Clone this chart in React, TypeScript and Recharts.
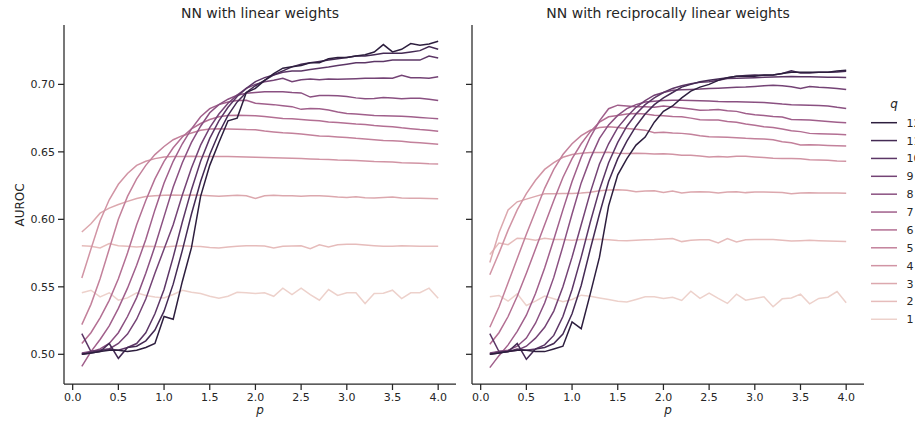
import React from "react";
import { LineChart, Line, XAxis, YAxis } from "recharts";

// p values (x axis)
const pValues = [0.1, 0.2, 0.3, 0.4, 0.5, 0.6, 0.7, 0.8, 0.9, 1.0, 1.1, 1.2, 1.3, 1.4, 1.5, 1.6, 1.7, 1.8, 1.9, 2.0,
  2.1, 2.2, 2.3, 2.4, 2.5, 2.6, 2.7, 2.8, 2.9, 3.0, 3.1, 3.2, 3.3, 3.4, 3.5, 3.6, 3.7, 3.8, 3.9, 4.0];

const qLevels = [1, 2, 3, 4, 5, 6, 7, 8, 9, 10, 11, 12];
const qColors = ["#EDD1CB", "#E6BCBB", "#DCA8AE", "#D194A4", "#C3819B", "#B36F93",
  "#A05F8B", "#8A5081", "#744375", "#5C3666", "#442A54", "#2D1E3E"];

const xTicks = [0, 0.5, 1, 1.5, 2, 2.5, 3, 3.5, 4];
const yTicks = [0.5, 0.55, 0.6, 0.65, 0.7];

// NN with linear weights
const linQ1 = [0.5456, 0.5475, 0.5426, 0.5456, 0.5401, 0.5418, 0.5456, 0.5436, 0.5424, 0.5418,
  0.5443, 0.5475, 0.546, 0.545, 0.543, 0.5416, 0.543, 0.546, 0.5456, 0.545,
  0.5456, 0.543, 0.549, 0.5443, 0.549, 0.5443, 0.5401, 0.548, 0.5436, 0.5456,
  0.5456, 0.5376, 0.545, 0.5453, 0.5475, 0.5413, 0.5456, 0.5456, 0.549, 0.5416];
const linQ2 = [0.5805, 0.58, 0.5788, 0.582, 0.5805, 0.58, 0.5795, 0.58, 0.5798, 0.5795,
  0.58, 0.5805, 0.58, 0.5798, 0.5792, 0.5788, 0.5795, 0.58, 0.5805, 0.5805,
  0.5802, 0.5788, 0.58, 0.5802, 0.5805, 0.5783, 0.5812, 0.5795, 0.5812, 0.5815,
  0.5815, 0.581, 0.5805, 0.58, 0.58, 0.5805, 0.5802, 0.58, 0.58, 0.58];
const linQ3 = [0.5906, 0.5967, 0.6046, 0.6083, 0.611, 0.6133, 0.6155, 0.617, 0.6175, 0.6178,
  0.618, 0.6178, 0.618, 0.6178, 0.6175, 0.6172, 0.6175, 0.6178, 0.6175, 0.6155,
  0.6175, 0.6178, 0.6175, 0.6175, 0.6172, 0.6175, 0.6175, 0.6172, 0.6165, 0.6162,
  0.6168, 0.616, 0.6158, 0.6162, 0.6165, 0.6158, 0.6156, 0.6156, 0.6155, 0.6152];
const linQ4 = [0.5566, 0.578, 0.599, 0.6145, 0.626, 0.634, 0.64, 0.643, 0.645, 0.6462,
  0.6465, 0.6465, 0.6468, 0.6466, 0.6465, 0.6465, 0.6466, 0.6464, 0.6462, 0.646,
  0.6458, 0.6457, 0.6454, 0.6452, 0.645, 0.6448, 0.6445, 0.6444, 0.644, 0.6438,
  0.6436, 0.6432, 0.6428, 0.6426, 0.6424, 0.642, 0.6418, 0.6415, 0.6412, 0.6411];
const linQ5 = [0.522, 0.537, 0.556, 0.578, 0.6, 0.617, 0.63, 0.64, 0.648, 0.654,
  0.659, 0.662, 0.664, 0.666, 0.667, 0.6672, 0.667, 0.6668, 0.6665, 0.6664,
  0.6655, 0.6648, 0.6642, 0.6638, 0.6632, 0.6625, 0.6618, 0.6615, 0.661, 0.6606,
  0.66, 0.6596, 0.659, 0.6585, 0.6582, 0.6578, 0.6572, 0.6567, 0.6562, 0.6556];
const linQ6 = [0.508, 0.516, 0.527, 0.54, 0.556, 0.575, 0.596, 0.614, 0.63, 0.643,
  0.653, 0.661, 0.667, 0.671, 0.674, 0.676, 0.677, 0.6772, 0.677, 0.6768,
  0.6762, 0.6755, 0.6748, 0.6745, 0.674, 0.6735, 0.673, 0.6722, 0.6718, 0.6712,
  0.6706, 0.6702, 0.6695, 0.669, 0.6686, 0.6678, 0.6672, 0.6665, 0.666, 0.6652];
const linQ7 = [0.491, 0.502, 0.511, 0.521, 0.534, 0.549, 0.566, 0.585, 0.607, 0.627,
  0.643, 0.656, 0.667, 0.676, 0.682, 0.685, 0.687, 0.688, 0.6882, 0.686,
  0.6855, 0.685, 0.6842, 0.6835, 0.6815, 0.6822, 0.682, 0.681, 0.6795, 0.6785,
  0.678, 0.6775, 0.677, 0.6768, 0.6766, 0.6764, 0.676, 0.6755, 0.675, 0.6745];
const linQ8 = [0.5, 0.502, 0.504, 0.508, 0.516, 0.528, 0.542, 0.56, 0.58, 0.602,
  0.624, 0.642, 0.657, 0.669, 0.679, 0.685, 0.689, 0.692, 0.6935, 0.694,
  0.6945, 0.6945, 0.6945, 0.694, 0.6937, 0.6906, 0.6918, 0.6918, 0.6915, 0.691,
  0.69, 0.6893, 0.6895, 0.6903, 0.69, 0.6893, 0.6898, 0.6898, 0.689, 0.6881];
const linQ9 = [0.501, 0.502, 0.503, 0.504, 0.508, 0.515, 0.526, 0.541, 0.56, 0.578,
  0.596, 0.618, 0.638, 0.655, 0.668, 0.678, 0.686, 0.692, 0.697, 0.7,
  0.702, 0.703, 0.7045, 0.7019, 0.7035, 0.704, 0.7035, 0.704, 0.7038, 0.704,
  0.7042, 0.7045, 0.7045, 0.7048, 0.7045, 0.7068, 0.705, 0.705, 0.7045, 0.7056];
const linQ10 = [0.5153, 0.502, 0.503, 0.504, 0.503, 0.505, 0.508, 0.516, 0.53, 0.548,
  0.572, 0.598, 0.622, 0.643, 0.66, 0.673, 0.683, 0.691, 0.697, 0.702,
  0.705, 0.707, 0.709, 0.71, 0.71, 0.711, 0.712, 0.7129, 0.714, 0.715,
  0.716, 0.716, 0.717, 0.717, 0.718, 0.718, 0.718, 0.718, 0.721, 0.7196];
const linQ11 = [0.5, 0.501, 0.502, 0.508, 0.497, 0.505, 0.506, 0.51, 0.518, 0.532,
  0.552, 0.577, 0.604, 0.628, 0.648, 0.664, 0.677, 0.687, 0.694, 0.699,
  0.703, 0.707, 0.71, 0.713, 0.715, 0.716, 0.717, 0.718, 0.719, 0.72,
  0.721, 0.721, 0.722, 0.723, 0.723, 0.723, 0.724, 0.725, 0.728, 0.726];
const linQ12 = [0.5, 0.501, 0.502, 0.503, 0.503, 0.502, 0.503, 0.505, 0.508, 0.528,
  0.526, 0.554, 0.579, 0.617, 0.64, 0.657, 0.673, 0.675, 0.694, 0.697,
  0.703, 0.708, 0.712, 0.713, 0.714, 0.716, 0.716, 0.719, 0.72, 0.72,
  0.721, 0.722, 0.724, 0.7295, 0.7241, 0.726, 0.7302, 0.729, 0.73, 0.7319];

// NN with reciprocally linear weights
const recQ1 = [0.5426, 0.5436, 0.5394, 0.5448, 0.5362, 0.5394, 0.5431, 0.5411, 0.5389, 0.5406,
  0.5438, 0.5431, 0.5418, 0.5406, 0.5394, 0.5387, 0.5406, 0.5426, 0.5426, 0.5414,
  0.5423, 0.5399, 0.5468, 0.5414, 0.5453, 0.5414, 0.5377, 0.5446, 0.5401, 0.5414,
  0.5426, 0.5352, 0.5411, 0.5418, 0.5446, 0.5374, 0.5414, 0.5423, 0.5465, 0.5382];
const recQ2 = [0.574, 0.5825, 0.5812, 0.586, 0.5857, 0.5845, 0.586, 0.585, 0.585, 0.5845,
  0.585, 0.585, 0.5852, 0.5848, 0.5843, 0.5842, 0.5845, 0.5848, 0.585, 0.5855,
  0.5858, 0.5835, 0.5845, 0.5848, 0.5848, 0.5825, 0.5857, 0.5832, 0.5848, 0.585,
  0.585, 0.585, 0.5845, 0.584, 0.5842, 0.5845, 0.5842, 0.584, 0.5838, 0.5835];
const recQ3 = [0.568, 0.59, 0.607, 0.613, 0.615, 0.617, 0.619, 0.619, 0.6192, 0.6192,
  0.6195, 0.62, 0.6212, 0.6218, 0.6219, 0.6215, 0.6205, 0.621, 0.6212, 0.6199,
  0.621, 0.6195, 0.6202, 0.6205, 0.6203, 0.6195, 0.6202, 0.6205, 0.6198, 0.6202,
  0.6203, 0.62, 0.6198, 0.619, 0.6195, 0.6197, 0.6196, 0.6195, 0.6195, 0.6194];
const recQ4 = [0.559, 0.575, 0.592, 0.607, 0.619, 0.629, 0.637, 0.642, 0.646, 0.648,
  0.649, 0.6495, 0.6495, 0.6497, 0.649, 0.6488, 0.649, 0.6488, 0.6485, 0.6486,
  0.6482, 0.6475, 0.6475, 0.647, 0.6462, 0.6465, 0.6462, 0.6468, 0.6467, 0.6462,
  0.6458, 0.6452, 0.645, 0.645, 0.6449, 0.6442, 0.644, 0.6438, 0.6432, 0.6431];
const recQ5 = [0.52, 0.535, 0.553, 0.571, 0.589, 0.606, 0.623, 0.637, 0.648, 0.656,
  0.662, 0.666, 0.668, 0.6686, 0.668, 0.6674, 0.6668, 0.6661, 0.6642, 0.6645,
  0.664, 0.6637, 0.663, 0.662, 0.6612, 0.661, 0.6608, 0.6605, 0.66, 0.6598,
  0.6595, 0.659, 0.6575, 0.6568, 0.6551, 0.6552, 0.655, 0.6548, 0.6546, 0.6544];
const recQ6 = [0.5074, 0.516, 0.528, 0.543, 0.56, 0.578, 0.596, 0.614, 0.631, 0.645,
  0.656, 0.665, 0.672, 0.676, 0.677, 0.678, 0.6785, 0.678, 0.6772, 0.6768,
  0.6762, 0.676, 0.675, 0.6738, 0.6736, 0.6736, 0.6725, 0.672, 0.6706, 0.6698,
  0.6686, 0.668, 0.667, 0.6656, 0.665, 0.6637, 0.6635, 0.6632, 0.663, 0.6627];
const recQ7 = [0.4901, 0.499, 0.507, 0.517, 0.529, 0.545, 0.564, 0.585, 0.607, 0.628,
  0.646, 0.661, 0.673, 0.682, 0.6846, 0.684, 0.6835, 0.6835, 0.683, 0.6839,
  0.6832, 0.6825, 0.6818, 0.6809, 0.681, 0.6814, 0.6805, 0.68, 0.6785, 0.6775,
  0.677, 0.6762, 0.6758, 0.674, 0.6738, 0.6736, 0.673, 0.6725, 0.672, 0.6716];
const recQ8 = [0.5, 0.502, 0.503, 0.506, 0.512, 0.523, 0.538, 0.557, 0.58, 0.604,
  0.627, 0.645, 0.66, 0.67, 0.677, 0.682, 0.685, 0.687, 0.6875, 0.688,
  0.6883, 0.6883, 0.688, 0.6878, 0.6876, 0.6873, 0.6872, 0.6871, 0.687, 0.6868,
  0.6865, 0.686, 0.6854, 0.685, 0.6848, 0.6846, 0.6843, 0.684, 0.683, 0.6822];
const recQ9 = [0.501, 0.502, 0.502, 0.503, 0.506, 0.512, 0.52, 0.532, 0.55, 0.572,
  0.596, 0.62, 0.641, 0.656, 0.668, 0.676, 0.683, 0.688, 0.692, 0.694,
  0.6957, 0.696, 0.6962, 0.6965, 0.697, 0.6972, 0.6975, 0.6978, 0.698, 0.6985,
  0.699, 0.6994, 0.699, 0.6982, 0.697, 0.6985, 0.6978, 0.6975, 0.697, 0.6962];
const recQ10 = [0.5153, 0.502, 0.502, 0.504, 0.503, 0.504, 0.507, 0.514, 0.528, 0.548,
  0.572, 0.598, 0.622, 0.642, 0.657, 0.669, 0.678, 0.685, 0.69, 0.694,
  0.697, 0.699, 0.7005, 0.7015, 0.7019, 0.703, 0.7043, 0.7045, 0.7048, 0.705,
  0.7052, 0.7055, 0.7056, 0.7058, 0.7056, 0.7056, 0.7055, 0.7053, 0.7052, 0.7051];
const recQ11 = [0.5, 0.501, 0.502, 0.508, 0.4963, 0.504, 0.505, 0.508, 0.515, 0.53,
  0.551, 0.578, 0.604, 0.628, 0.645, 0.658, 0.669, 0.678, 0.685, 0.69,
  0.694, 0.698, 0.7, 0.702, 0.703, 0.704, 0.705, 0.706, 0.7065, 0.707,
  0.7068, 0.707, 0.708, 0.71, 0.7085, 0.7085, 0.709, 0.709, 0.7092, 0.7097];
const recQ12 = [0.5, 0.501, 0.502, 0.503, 0.503, 0.502, 0.502, 0.504, 0.506, 0.524,
  0.519, 0.545, 0.572, 0.61, 0.633, 0.645, 0.655, 0.661, 0.672, 0.68,
  0.684, 0.69, 0.695, 0.698, 0.7, 0.703, 0.705, 0.706, 0.706, 0.706,
  0.707, 0.707, 0.708, 0.709, 0.709, 0.709, 0.709, 0.709, 0.71, 0.7105];

const linSeries = [linQ1, linQ2, linQ3, linQ4, linQ5, linQ6, linQ7, linQ8, linQ9, linQ10, linQ11, linQ12];
const recSeries = [recQ1, recQ2, recQ3, recQ4, recQ5, recQ6, recQ7, recQ8, recQ9, recQ10, recQ11, recQ12];

function toRows(series: number[][]) {
  return pValues.map((p, i) => {
    const row: Record<string, number> = { p };
    qLevels.forEach((q, k) => {
      row["q" + q] = series[k][i];
    });
    return row;
  });
}

const linData = toRows(linSeries);
const recData = toRows(recSeries);

const ink = "#262626";
const font = "DejaVu Sans, sans-serif";

function Panel({ data, showLabels }: { data: Record<string, number>[]; showLabels: boolean }) {
  return (
    <LineChart width={460} height={423} data={data} margin={{ top: 25, right: 4, bottom: 0, left: 0 }}>
      <XAxis
        dataKey="p"
        type="number"
        domain={[-0.095, 4.195]}
        ticks={xTicks}
        tickFormatter={(v: number) => v.toFixed(1)}
        allowDataOverflow
        height={39}
        tickSize={6}
        tickMargin={3}
        axisLine={{ stroke: ink, strokeWidth: 1.25 }}
        tickLine={{ stroke: ink, strokeWidth: 1.25 }}
        tick={{ fill: ink, fontSize: 11, fontFamily: font }}
      />
      <YAxis
        type="number"
        domain={[0.478, 0.744]}
        ticks={yTicks}
        tickFormatter={(v: number) => (showLabels ? v.toFixed(2) : "")}
        allowDataOverflow
        width={64}
        tickSize={6}
        tickMargin={3}
        axisLine={{ stroke: ink, strokeWidth: 1.25 }}
        tickLine={{ stroke: ink, strokeWidth: 1.25 }}
        tick={{ fill: ink, fontSize: 11, fontFamily: font }}
      />
      {qLevels.map((q, k) => (
        <Line
          key={q}
          type="linear"
          dataKey={"q" + q}
          stroke={qColors[k]}
          strokeWidth={1.5}
          dot={false}
          activeDot={false}
          isAnimationActive={false}
        />
      ))}
    </LineChart>
  );
}

export default function App() {
  const legendItems = [...qLevels].reverse();
  return (
    <div style={{ position: "fixed", left: 0, top: 0, width: 915, height: 423, overflow: "hidden", background: "#fff", fontFamily: font }}>
      <div style={{ position: "absolute", left: 0, top: 0 }}>
        <Panel data={linData} showLabels={true} />
      </div>
      <div style={{ position: "absolute", left: 408, top: 0 }}>
        <Panel data={recData} showLabels={false} />
      </div>
      <svg width={915} height={423} style={{ position: "absolute", left: 0, top: 0, pointerEvents: "none" }}>
        <g fill={ink} fontFamily={font}>
          <text x={260} y={18} textAnchor="middle" fontSize={14}>NN with linear weights</text>
          <text x={668} y={18} textAnchor="middle" fontSize={14}>NN with reciprocally linear weights</text>
          <text x={260} y={414} textAnchor="middle" fontSize={12} fontStyle="italic">p</text>
          <text x={668} y={414} textAnchor="middle" fontSize={12} fontStyle="italic">p</text>
          <text transform="translate(23.5,205) rotate(-90)" textAnchor="middle" fontSize={12}>AUROC</text>
          <text x={894} y={108} textAnchor="middle" fontSize={12} fontStyle="italic">q</text>
          {legendItems.map((q, i) => {
            const y = 122.7 + 17.87 * i;
            return (
              <g key={q}>
                <line x1={871} x2={897} y1={y} y2={y} stroke={qColors[q - 1]} strokeWidth={1.5} />
                <text x={906.5} y={y + 4} fontSize={11}>{q}</text>
              </g>
            );
          })}
        </g>
      </svg>
    </div>
  );
}
